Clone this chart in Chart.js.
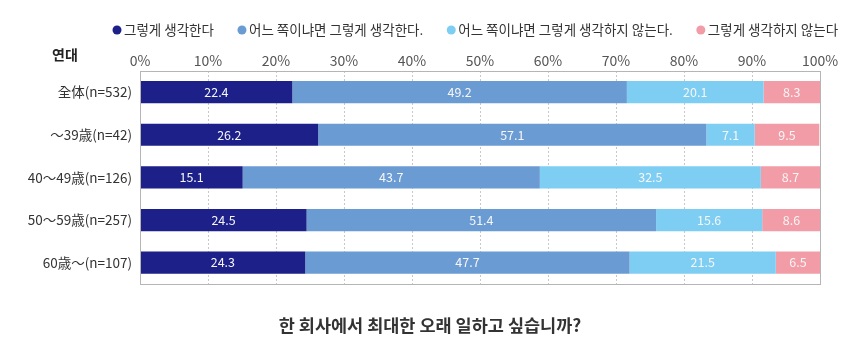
<!DOCTYPE html>
<html>
<head>
<meta charset="utf-8">
<script src="https://cdn.jsdelivr.net/npm/chart.js@4.4.1/dist/chart.umd.min.js"></script>
<style>
  body { margin: 0; background: #fff; }
  #wrap { width: 850px; height: 344px; }
</style>
</head>
<body>
<div id="wrap"><canvas id="ageChart" width="850" height="344"></canvas></div>
<script>
// age groups and answer shares (%)
const groups = ['全体(n=532)', '～39歳(n=42)', '40～49歳(n=126)', '50～59歳(n=257)', '60歳～(n=107)'];
const answers = ['그렇게 생각한다', '어느 쪽이냐면 그렇게 생각한다.', '어느 쪽이냐면 그렇게 생각하지 않는다.', '그렇게 생각하지 않는다'];
const agree = [22.4, 26.2, 15.1, 24.5, 24.3];
const ratherAgree = [49.2, 57.1, 43.7, 51.4, 47.7];
const ratherDisagree = [20.1, 7.1, 32.5, 15.6, 21.5];
const disagree = [8.3, 9.5, 8.7, 8.6, 6.5];
const colors = ['#1d2088', '#6b9bd3', '#7ecef4', '#f29ca7'];
const question = '한 회사에서 최대한 오래 일하고 싶습니까?';

const FONT = '"Noto Sans CJK KR", "Noto Sans", sans-serif';

// white value labels inside each segment
const segmentLabels = {
  id: 'segmentLabels',
  afterDatasetsDraw(chart) {
    const ctx = chart.ctx;
    ctx.save();
    ctx.font = '12.5px ' + FONT;
    ctx.fillStyle = '#f6f6f6';
    ctx.textAlign = 'center';
    ctx.textBaseline = 'middle';
    chart.data.datasets.forEach((ds, i) => {
      chart.getDatasetMeta(i).data.forEach((bar, j) => {
        const x = (bar.x + bar.base) / 2;
        ctx.fillText(ds.data[j].toFixed(1), x, bar.y);
      });
    });
    ctx.restore();
  }
};

// legend row of dots, laid out left to right above the axis
const dotLegend = {
  id: 'dotLegend',
  afterDraw(chart) {
    const ctx = chart.ctx;
    ctx.save();
    ctx.font = '13.5px ' + FONT;
    ctx.textBaseline = 'middle';
    ctx.textAlign = 'left';
    let x = 117;
    const y = 30;
    chart.data.datasets.forEach(ds => {
      ctx.fillStyle = ds.backgroundColor;
      ctx.beginPath();
      ctx.arc(x, y, 4.5, 0, Math.PI * 2);
      ctx.fill();
      ctx.fillStyle = '#333';
      ctx.fillText(ds.label, x + 7, y);
      x += 7 + ctx.measureText(ds.label).width + 28;
    });
    ctx.restore();
  }
};

// frame around the plot, the "연대" header and the question underneath
const frame = {
  id: 'frame',
  afterDraw(chart) {
    const a = chart.chartArea;
    const ctx = chart.ctx;
    ctx.save();
    ctx.strokeStyle = '#b5b5b5';
    ctx.lineWidth = 1;
    ctx.strokeRect(Math.round(a.left) + 0.5, Math.round(a.top) + 0.5, Math.round(a.right - a.left), Math.round(a.bottom - a.top));
    ctx.font = 'bold 14px ' + FONT;
    ctx.fillStyle = '#222';
    ctx.textAlign = 'left';
    ctx.textBaseline = 'middle';
    ctx.fillText('연대', 52, 55);
    ctx.font = 'bold 17.5px ' + FONT;
    ctx.fillStyle = '#333';
    ctx.textAlign = 'center';
    ctx.fillText(question, 430, 325);
    ctx.restore();
  }
};

new Chart(document.getElementById('ageChart'), {
  type: 'bar',
  data: {
    labels: groups,
    datasets: [
      { label: answers[0], data: agree, backgroundColor: colors[0] },
      { label: answers[1], data: ratherAgree, backgroundColor: colors[1] },
      { label: answers[2], data: ratherDisagree, backgroundColor: colors[2] },
      { label: answers[3], data: disagree, backgroundColor: colors[3] }
    ]
  },
  options: {
    indexAxis: 'y',
    responsive: false,
    animation: false,
    datasets: { bar: { barPercentage: 0.8, categoryPercentage: 0.65 } },
    layout: { padding: { left: 0, right: 30, top: 50, bottom: 60 } },
    scales: {
      x: {
        position: 'top',
        stacked: true,
        min: 0,
        max: 100,
        ticks: {
          stepSize: 10,
          callback: v => v + '%',
          color: '#555',
          font: { size: 14, family: FONT },
          padding: 2
        },
        grid: { color: '#c8c8c8', drawTicks: false },
        border: { display: false, dash: [2, 2] }
      },
      y: {
        stacked: true,
        afterFit(scale) { scale.width = 140; },
        ticks: { color: '#333', font: { size: 13.5, family: FONT }, padding: 8 },
        grid: { display: false, drawTicks: false },
        border: { display: false }
      }
    },
    plugins: {
      legend: { display: false },
      title: { display: false },
      tooltip: { enabled: false }
    }
  },
  plugins: [segmentLabels, dotLegend, frame]
});
</script>
</body>
</html>
